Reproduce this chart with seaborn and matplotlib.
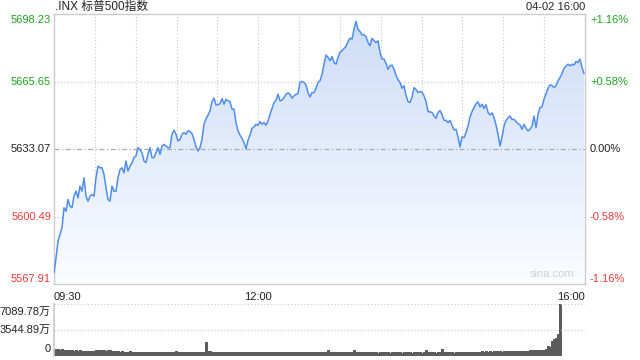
import numpy as np
import pandas as pd
import matplotlib
matplotlib.use("Agg")
import matplotlib.pyplot as plt
import seaborn as sns
from matplotlib.colors import LinearSegmentedColormap

# ---------------- data ----------------
title = ".INX 标普500指数"
stamp = "04-02 16:00"
prev_close = 5633.07
y_ticks = [5698.23, 5665.65, 5633.07, 5600.49, 5567.91]
pct_ticks = ["+1.16%", "+0.58%", "0.00%", "-0.58%", "-1.16%"]
x_labels = ["09:30", "12:00", "16:00"]
x_label_minutes = [0, 150, 390]
vol_ticks = [7089.78, 3544.89, 0]
vol_tick_labels = ["7089.78万", "3544.89万", "0"]

price = [
    5573.2, 5580.5, 5588.5, 5591.8, 5595.0, 5604.7, 5603.0, 5608.7, 5605.5, 5604.7,
    5610.3, 5612.7, 5609.5, 5615.2, 5612.7, 5619.2, 5610.3, 5607.9, 5610.3, 5611.1,
    5610.3, 5619.2, 5624.8, 5624.0, 5624.0, 5620.8, 5614.4, 5608.7, 5607.9, 5615.2,
    5612.7, 5612.7, 5619.2, 5623.2, 5624.0, 5621.6, 5627.3, 5622.4, 5624.8, 5626.5,
    5628.9, 5629.7, 5633.7, 5632.9, 5631.3, 5627.3, 5626.5, 5630.5, 5633.7, 5628.9,
    5628.9, 5631.3, 5633.7, 5630.5, 5634.5, 5635.3, 5634.5, 5633.7, 5633.7, 5640.2,
    5642.1, 5640.2, 5636.9, 5637.7, 5640.2, 5641.0, 5640.2, 5641.8,
    5641.5, 5640.5, 5637.7, 5634.0, 5632.1, 5633.7, 5637.7, 5645.0, 5647.7, 5649.4,
    5651.5, 5656.0, 5657.6, 5654.4, 5654.4, 5655.0, 5657.4, 5654.7, 5657.1, 5656.3,
    5656.0, 5652.3, 5652.3, 5645.8, 5641.8, 5639.8, 5638.2, 5636.1, 5633.2, 5637.3,
    5639.8, 5643.1, 5643.7, 5645.0, 5644.5, 5646.3, 5645.0, 5645.8, 5644.5, 5646.6,
    5649.8, 5652.6, 5655.5, 5656.6, 5659.5, 5656.3, 5656.6, 5657.9, 5659.5, 5660.2,
    5659.5, 5657.6, 5658.7, 5659.5, 5659.8, 5665.2, 5665.7, 5665.2, 5664.0, 5660.3,
    5658.2, 5660.3, 5660.3, 5662.4, 5665.2, 5666.0, 5669.2,
    5674.0, 5678.4, 5677.3, 5675.7, 5677.7, 5674.8, 5674.0, 5677.3, 5679.7, 5680.5,
    5681.6, 5682.6, 5685.0, 5686.6, 5686.1, 5691.0, 5694.7, 5690.7, 5689.8, 5688.1,
    5688.2, 5687.3, 5684.5, 5682.9, 5686.5, 5685.3, 5684.5, 5685.3, 5679.7, 5676.5,
    5676.5, 5674.4, 5671.6, 5673.2, 5673.6, 5671.6, 5668.7, 5666.5, 5665.2, 5662.4,
    5663.6, 5659.0, 5656.0, 5655.5, 5658.2, 5662.7, 5661.8, 5660.3, 5660.8, 5660.5,
    5658.7, 5656.0, 5651.1, 5651.0, 5650.7, 5649.0, 5647.9, 5650.7, 5651.6, 5649.8,
    5646.9, 5646.9, 5645.8, 5646.9, 5644.5, 5642.3, 5642.6, 5638.9,
    5634.0, 5638.9, 5638.6, 5641.0, 5644.2, 5648.6, 5651.1, 5653.1, 5655.0, 5655.8,
    5653.4, 5654.7, 5652.7, 5654.4, 5650.7, 5649.5, 5650.5, 5648.2, 5644.7, 5640.2,
    5634.5, 5638.9, 5644.2, 5646.9, 5648.1, 5649.0, 5647.3, 5647.4, 5646.3, 5645.3,
    5644.7, 5642.6, 5645.0, 5643.1, 5641.8, 5642.6, 5644.2, 5649.0, 5643.4, 5649.8,
    5653.1, 5653.4, 5657.1, 5659.8, 5662.4, 5664.0, 5663.7, 5662.7, 5663.6, 5666.0,
    5667.6, 5669.5, 5672.1, 5673.1, 5674.0, 5673.2, 5674.0, 5673.6, 5675.3, 5674.8,
    5676.5, 5672.4, 5669.5,
]

volume = [  # 万
    1000, 930, 960, 880, 900, 820, 790, 840, 760, 800,
    740, 780, 700, 760, 720, 690, 740, 680, 710, 650,
    700, 880, 820, 790, 760, 800, 720, 750, 860, 700,
    650, 620, 660, 600, 630, 590, 610, 580, 620, 590,
    600, 570, 610, 580, 560, 600, 570, 590, 550, 580,
    560, 600, 570, 550, 590, 560, 580, 540, 570, 600,
    560, 720, 550, 590, 570, 560, 600, 550, 580, 560,
    570, 590, 560, 580, 600, 570, 1900, 680, 620, 600,
    560, 540, 580, 520, 560, 500, 540, 560, 520, 550,
    500, 540, 520, 560, 510, 540, 500, 530, 560, 510,
    540, 500, 530, 550, 510, 540, 520, 500, 540, 520,
    550, 510, 530, 500, 540, 520, 560, 510, 530, 500,
    540, 510, 530, 560, 500, 540, 520, 510, 540, 500,
    530, 520, 540, 500, 530, 510, 540, 860, 560, 520,
    500, 540, 510, 480, 520, 500, 540, 490, 520, 500,
    770, 540, 500, 520, 480, 510, 490, 530, 500, 480,
    520, 500, 470, 510, 490, 520, 480, 500, 470, 510,
    490, 520, 480, 500, 470, 510, 490, 480, 510, 470,
    500, 480, 520, 490, 470, 510, 770, 500, 480, 510,
    490, 470, 500, 480, 900, 520, 490, 510, 480, 500,
    470, 510, 490, 520, 480, 500, 510, 490, 520, 500,
    540, 510, 530, 600, 620, 590, 640, 610, 650, 600,
    630, 660, 620, 650, 600, 640, 670, 620, 660, 640,
    680, 650, 690, 660, 700, 680, 720, 700, 780, 760,
    800, 770, 820, 790, 800, 820, 1000, 1360, 1250, 2050,
    2270, 2500, 2950, 7089.78,
]

n = len(price)
minutes = np.arange(n) * 1.469
df = pd.DataFrame({"t": minutes, "price": price})
dv = pd.DataFrame({"t": minutes[:len(volume)], "vol": volume})

# ---------------- style ----------------
sns.set_theme(style="white")
plt.rcParams["font.family"] = ["Liberation Sans", "Noto Sans CJK SC", "DejaVu Sans"]

GREEN = "#1fa31f"
RED = "#f03a3a"
DARK = "#222222"
LINE = "#4f8ef0"
BORDER = "#cccccc"

fig = plt.figure(figsize=(6.4, 3.6), dpi=100)
ax = fig.add_axes([54 / 640, 1 - 284 / 360, 531 / 640, 270 / 360])
axv = fig.add_axes([54 / 640, 1 - 356 / 360, 531 / 640, 52 / 360])

ymin, ymax = y_ticks[-1], y_ticks[0]
ax.set_xlim(0, 390)
ax.set_ylim(ymin, ymax)

# gradient fill under the line
grad = np.linspace(0, 1, 256).reshape(-1, 1)
cmap = LinearSegmentedColormap.from_list("g", ["#fbfcff", "#ccdcf7"])
poly = ax.fill_between(df["t"], df["price"], ymin, color="none", lw=0)
img = ax.imshow(grad, cmap=cmap, aspect="auto", origin="lower",
                extent=[0, 390, ymin, ymax], zorder=1)
img.set_clip_path(poly.get_paths()[0], transform=ax.transData)

# grid
for m in range(30, 390, 30):
    ax.axvline(m, color="#c8c8c8", lw=0.8, ls=(0, (1, 2)), zorder=0.5)
for v in (y_ticks[1], y_ticks[3]):
    ax.axhline(v, color="#c8c8c8", lw=0.8, ls=(0, (1, 2)), zorder=0.5)
ax.axhline(prev_close, color="#aaaaaa", lw=0.9, ls=(0, (4, 2, 1, 2)), zorder=2)

sns.lineplot(data=df, x="t", y="price", ax=ax, color=LINE, lw=1.1, zorder=3)

ax.set_xticks([])
ax.set_yticks([])
ax.set_xlabel("")
ax.set_ylabel("")
for s in ax.spines.values():
    s.set_color(BORDER)
    s.set_linewidth(1.0)

# left / right labels
left_colors = [GREEN, GREEN, DARK, RED, RED]
ypix = [20, 82, 149, 217, 279]
for v, lab, c, yp in zip(y_ticks, pct_ticks, left_colors, ypix):
    fy = 1 - yp / 360
    fig.text(51 / 640, fy, f"{v:.2f}", color=c, fontsize=8, ha="right", va="center")
    fig.text(590 / 640, fy, lab, color=c, fontsize=8, ha="left", va="center")

fig.text(55 / 640, 1 - 7 / 360, title, fontsize=8.5, color=DARK, ha="left", va="center")
fig.text(585 / 640, 1 - 7 / 360, stamp, fontsize=8, color=DARK, ha="right", va="center")

for m, lab in zip(x_label_minutes, x_labels):
    ha = "left" if m == 0 else ("right" if m == 390 else "center")
    ax.text(m, -0.03, lab, transform=ax.get_xaxis_transform(), fontsize=8,
            color=DARK, ha=ha, va="top")

ax.text(0.98, 0.02, "sina.com", transform=ax.transAxes, fontsize=8,
        color="#d0d0d0", ha="right", va="bottom", zorder=4)

# ---------------- volume ----------------
axv.set_xlim(0, 390)
axv.set_ylim(0, vol_ticks[0])
axv.vlines(dv["t"], 0, dv["vol"], colors="#5c5c5c", lw=0.75, antialiased=False)
axv.axhline(vol_ticks[0], color="#c8c8c8", lw=0.8, ls=(0, (1, 2)))
axv.axhline(vol_ticks[1], color="#c8c8c8", lw=0.8, ls=(0, (1, 2)))
axv.set_xticks([])
axv.set_yticks([])
for k, s in axv.spines.items():
    s.set_visible(k == "left")
    s.set_color(BORDER)
for lab, yp in zip(vol_tick_labels, [312, 330, 349]):
    fig.text(51 / 640, 1 - yp / 360, lab, fontsize=8, color=DARK, ha="right", va="center")

fig.savefig("out.png", dpi=100, facecolor="white")
